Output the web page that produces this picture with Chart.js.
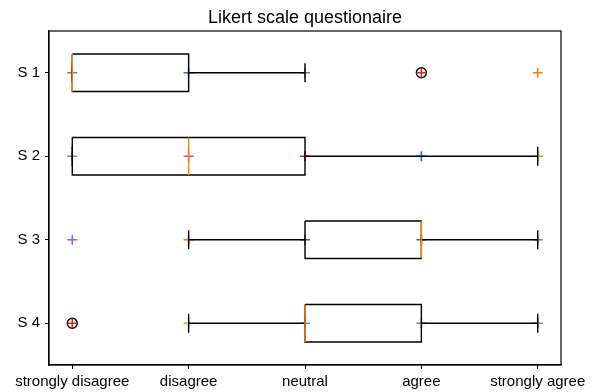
<!DOCTYPE html>
<html>
<head>
<meta charset="utf-8">
<script src="https://cdn.jsdelivr.net/npm/chart.js@4"></script>
<style>
  html, body { margin: 0; padding: 0; background: #fff; }
  #wrap { width: 596px; height: 392px; }
</style>
</head>
<body>
<div id="wrap"><canvas id="likertChart" width="596" height="392"></canvas></div>
<script>
// questions and answer levels
const chartTitle = 'Likert scale questionaire';
const questions = ['S 1', 'S 2', 'S 3', 'S 4'];
const levels = ['strongly disagree', 'disagree', 'neutral', 'agree', 'strongly agree'];

// box statistics per question (1 = strongly disagree ... 5 = strongly agree)
const q1s      = [1, 1, 3, 3];
const medians  = [1, 2, 4, 3];
const q3s      = [2, 3, 4, 4];
const whiskLow = [1, 1, 2, 2];
const whiskHi  = [3, 5, 5, 5];
const fliers   = [[4], [], [], [1]];

// individual answers drawn as '+' markers
const answers = [
    [1, 2, 3, 4, 5],
    [1, 2, 3, 4, 5],
    [1, 2, 3, 4, 5],
    [1, 2, 3, 4, 5]
];
const answerColors = [
    ['#7f7f7f', '#1f77b4', '#9467bd', '#d62728', '#ff7f0e'],
    ['#7f7f7f', '#9467bd', '#d62728', '#1f77b4', '#ff7f0e'],
    ['#9467bd', '#ff7f0e', '#8c564b', '#1f77b4', '#9467bd'],
    ['#d62728', '#bcbd22', '#17becf', '#9467bd', '#7f7f7f']
];

const halfBox = 0.225;
const halfCap = 0.1125;

function seg(points, color, order) {
    return {
        type: 'line',
        data: points.map(p => ({ x: p[0], y: p[1] })),
        borderColor: color,
        borderWidth: 1.4,
        pointRadius: 0,
        fill: false,
        tension: 0,
        order: order
    };
}

let datasets = [];
questions.forEach((q, i) => {
    const y = i + 1;
    // '+' answer markers, underneath the boxes
    datasets.push({
        type: 'scatter',
        data: answers[i].map(v => ({ x: v, y: y })),
        pointStyle: 'cross',
        pointRadius: 5,
        pointBorderWidth: 1.6,
        pointBorderColor: answerColors[i],
        pointBackgroundColor: answerColors[i],
        order: 5
    });
    // box
    datasets.push(seg([[q1s[i], y - halfBox], [q3s[i], y - halfBox], [q3s[i], y + halfBox],
                       [q1s[i], y + halfBox], [q1s[i], y - halfBox]], '#000', 2));
    // whiskers
    datasets.push(seg([[q1s[i], y], [whiskLow[i], y]], '#000', 2));
    datasets.push(seg([[q3s[i], y], [whiskHi[i], y]], '#000', 2));
    // caps
    datasets.push(seg([[whiskLow[i], y - halfCap], [whiskLow[i], y + halfCap]], '#000', 2));
    datasets.push(seg([[whiskHi[i], y - halfCap], [whiskHi[i], y + halfCap]], '#000', 2));
    // median
    datasets.push(seg([[medians[i], y - halfBox], [medians[i], y + halfBox]], '#ff7f0e', 1));
    // fliers
    if (fliers[i].length) {
        datasets.push({
            type: 'scatter',
            data: fliers[i].map(v => ({ x: v, y: y })),
            pointStyle: 'circle',
            pointRadius: 5,
            pointBorderWidth: 1.4,
            pointBorderColor: '#000',
            pointBackgroundColor: 'rgba(0,0,0,0)',
            order: 6
        });
    }
});

// axes frame + title centred over the plot area
const frame = {
    id: 'frame',
    afterDatasetsDraw(chart) {
        const a = chart.chartArea;
        const c = chart.ctx;
        c.save();
        c.strokeStyle = '#000';
        c.lineWidth = 1.2;
        c.strokeRect(a.left, a.top, a.right - a.left, a.bottom - a.top);
        c.fillStyle = '#000';
        c.font = '18px "Liberation Sans"';
        c.textAlign = 'center';
        c.textBaseline = 'middle';
        c.fillText(chartTitle, (a.left + a.right) / 2, 18);
        c.restore();
    }
};

let ctx = document.getElementById('likertChart').getContext('2d');
let likertChart = new Chart(ctx, {
    type: 'scatter',
    data: { datasets: datasets },
    plugins: [frame],
    options: {
        responsive: false,
        animation: false,
        events: [],
        layout: { padding: { left: 0, right: 35, top: 31, bottom: 0 } },
        plugins: {
            legend: { display: false },
            tooltip: { enabled: false },
            title: { display: false }
        },
        scales: {
            x: {
                type: 'linear', min: 0.8, max: 5.2,
                afterBuildTicks: s => { s.ticks = levels.map((l, i) => ({ value: i + 1 })); },
                afterFit: s => { s.height = 27; s.paddingLeft = 0; s.paddingRight = 0; },
                grid: { drawOnChartArea: false, drawTicks: true, tickLength: 4, color: '#000' },
                border: { color: '#000', width: 1.2 },
                ticks: {
                    color: '#000', padding: 4, maxRotation: 0, autoSkip: false,
                    font: { family: 'Liberation Sans', size: 15 },
                    callback: v => levels[v - 1]
                }
            },
            y: {
                type: 'linear', min: 0.5, max: 4.5, reverse: true,
                afterBuildTicks: s => { s.ticks = questions.map((q, i) => ({ value: i + 1 })); },
                afterFit: s => { s.width = 49; s.paddingTop = 0; s.paddingBottom = 0; },
                grid: { drawOnChartArea: false, drawTicks: true, tickLength: 4, color: '#000' },
                border: { color: '#000', width: 1.2 },
                ticks: {
                    color: '#000', padding: 5, autoSkip: false,
                    font: { family: 'Liberation Sans', size: 15 },
                    callback: v => questions[v - 1]
                }
            }
        }
    }
});
</script>
</body>
</html>
